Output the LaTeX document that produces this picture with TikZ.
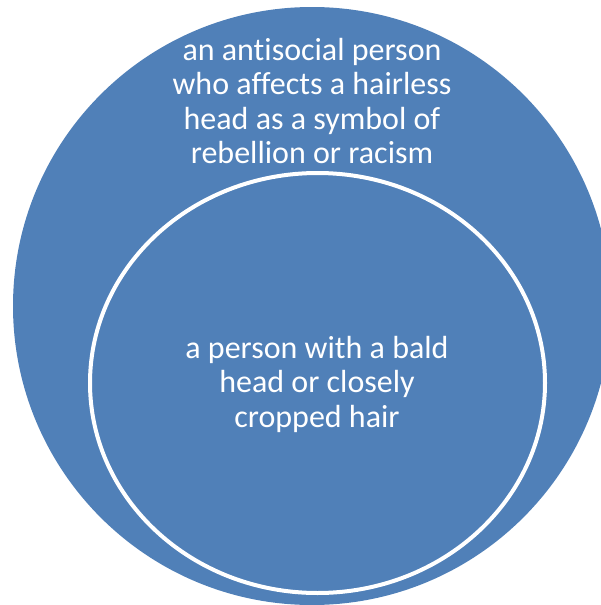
\documentclass[tikz,border=0pt]{standalone}
\usepackage{fontspec}
\setmainfont{Carlito}[Ligatures={NoCommon,NoRare,NoContextual}]
\usepackage{xcolor}
\definecolor{azulSet}{HTML}{5080B8}
\usetikzlibrary{shapes.geometric}

\begin{document}
\begin{tikzpicture}[x=1pt,y=-1pt,
 outerSet/.style={circle,fill=azulSet,minimum size=598pt,inner sep=0pt},
 innerSet/.style={ellipse,fill=azulSet,draw=white,line width=4pt,
 minimum width=455pt,minimum height=420pt,inner sep=0pt},
 setLabel/.style={text=white,align=center,font=\fontsize{32}{34.5}\selectfont}]
 \useasboundingbox (0,0) rectangle (601,605);
 \clip (0,0) rectangle (601,605);
 \node[outerSet] (outer) at (312,306) {};
 \node[innerSet] (inner) at (317.5,383) {};
 \node[setLabel] (outerText) at (312,101) {an antisocial person\\who affects a hairless\\head as a symbol of\\rebellion or racism};
 \node[setLabel] (innerText) at (317,384) {a person with a bald\\head or closely\\cropped hair};
\end{tikzpicture}
\end{document}
